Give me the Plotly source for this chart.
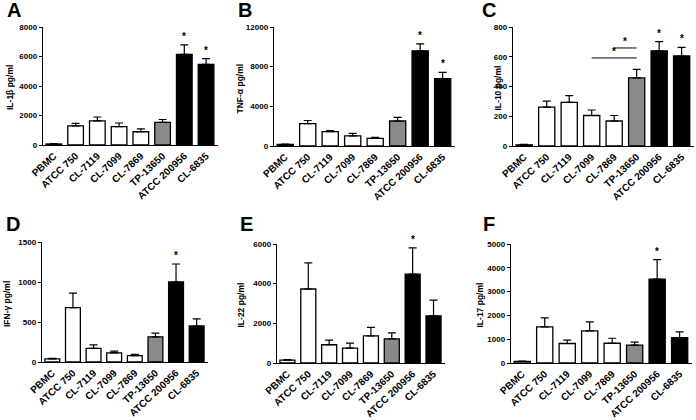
import plotly.graph_objects as go

W, H = 696, 420

categories = ["PBMC", "ATCC 750", "CL-7119", "CL-7099", "CL-7869", "TP-13650", "ATCC 200956", "CL-6835"]
bar_colors = ["white", "white", "white", "white", "white", "#8a8a8a", "black", "black"]

il1b_mean = [70, 1290, 1630, 1240, 900, 1530, 6150, 5470]
il1b_err = [20, 170, 270, 250, 200, 200, 640, 390]

tnfa_mean = [150, 2250, 1440, 1020, 760, 2520, 9600, 6780]
tnfa_err = [30, 320, 120, 260, 120, 360, 700, 650]

il10_mean = [8, 262, 293, 205, 168, 458, 640, 605]
il10_err = [3, 40, 45, 37, 37, 57, 62, 58]

ifng_mean = [40, 680, 170, 115, 80, 315, 1000, 450]
ifng_err = [5, 180, 45, 20, 15, 45, 225, 90]

il22_mean = [150, 3730, 920, 750, 1370, 1220, 4480, 2380]
il22_err = [20, 1320, 230, 250, 430, 300, 1320, 790]

il17_mean = [70, 1520, 820, 1350, 830, 750, 3520, 1060]
il17_err = [10, 380, 140, 380, 210, 130, 820, 250]

panels = [
    dict(letter="A", title="IL-1β pg/ml", mean=il1b_mean, err=il1b_err, top=8000, dtick=2000,
         star=["ATCC 200956", "CL-6835"]),
    dict(letter="B", title="TNF-α pg/ml", mean=tnfa_mean, err=tnfa_err, top=12000, dtick=4000,
         star=["ATCC 200956", "CL-6835"]),
    dict(letter="C", title="IL-10 pg/ml", mean=il10_mean, err=il10_err, top=800, dtick=200,
         star=["ATCC 200956", "CL-6835"]),
    dict(letter="D", title="IFN-γ pg/ml", mean=ifng_mean, err=ifng_err, top=1500, dtick=500,
         star=["ATCC 200956"]),
    dict(letter="E", title="IL-22 pg/ml", mean=il22_mean, err=il22_err, top=6000, dtick=2000,
         star=["ATCC 200956"]),
    dict(letter="F", title="IL-17 pg/ml", mean=il17_mean, err=il17_err, top=5000, dtick=1000,
         star=["ATCC 200956"]),
]

# pixel geometry: (axis left, axis right, axis top, axis bottom, letter x, letter top, title x)
geom = [
    (43, 218, 27, 145, 5, -3, 10),
    (274, 455, 27, 146, 236, -3, 239),
    (513, 694, 27, 146, 480, -3, 497),
    (42, 208, 242, 362, 4, 211, 7),
    (277, 445, 244, 363, 238, 211, 240),
    (511, 692, 244, 363, 481, 211, 479),
]

# bracket comparisons in panel C: (from, to, y)
c_brackets = [("CL-7099", "TP-13650", 592), ("CL-7869", "TP-13650", 659)]

FONT = "Liberation Sans, Arial, sans-serif"

fig = go.Figure()
layout = dict(
    width=W, height=H, margin=dict(l=0, r=0, t=0, b=0),
    paper_bgcolor="white", plot_bgcolor="white",
    showlegend=False, bargap=0.28,
    font=dict(family=FONT, color="black"),
)
annotations = []
shapes = []

for i, (p, g) in enumerate(zip(panels, geom)):
    n = i + 1
    xl, xr, yt, yb, lx, ly, tx = g
    xa = "x" if n == 1 else f"x{n}"
    ya = "y" if n == 1 else f"y{n}"
    fig.add_trace(go.Bar(
        x=categories, y=p["mean"], xaxis=xa, yaxis=ya,
        marker=dict(color=bar_colors, line=dict(color="black", width=1.3)),
        error_y=dict(type="data", array=p["err"], arrayminus=[0] * len(p["err"]),
                     symmetric=False, color="black", thickness=1.2, width=4),
        hoverinfo="skip",
    ))
    xkey = "xaxis" if n == 1 else f"xaxis{n}"
    ykey = "yaxis" if n == 1 else f"yaxis{n}"
    layout[xkey] = dict(
        domain=[xl / W, xr / W], anchor=ya, type="category",
        range=[-0.5, 7.55], showline=True, linecolor="black", linewidth=1.3,
        ticks="", showgrid=False, zeroline=False, tickangle=-43,
        tickfont=dict(family=FONT, size=10, weight="bold", color="black"),
        automargin=False, fixedrange=True,
    )
    layout[ykey] = dict(
        domain=[1 - yb / H, 1 - yt / H], anchor=xa,
        range=[0, p["top"]], dtick=p["dtick"], tick0=0, tickformat="d",
        showline=True, linecolor="black", linewidth=1.3,
        ticks="outside", ticklen=3, tickwidth=1, tickcolor="black",
        showgrid=False, zeroline=False,
        tickfont=dict(family=FONT, size=8, weight="bold", color="black"),
        automargin=False, fixedrange=True,
    )
    # panel letter
    annotations.append(dict(
        text=p["letter"], xref="paper", yref="paper", x=lx / W, y=1 - ly / H,
        xanchor="left", yanchor="top", showarrow=False,
        font=dict(family=FONT, size=20, weight="bold", color="black"),
    ))
    # y axis title
    annotations.append(dict(
        text=p["title"], xref="paper", yref="paper", x=tx / W, y=1 - ((yt + yb) / 2 + 2) / H,
        xanchor="center", yanchor="middle", textangle=-90, showarrow=False,
        font=dict(family=FONT, size=8.5, weight="bold", color="black"),
    ))
    # significance stars
    for cat in p["star"]:
        k = categories.index(cat)
        annotations.append(dict(
            text="*", xref=xa, yref=ya, x=cat, y=p["mean"][k] + p["err"][k],
            xanchor="center", yanchor="bottom", yshift=1, showarrow=False,
            font=dict(family=FONT, size=10, weight="bold", color="black"),
        ))
    if p["letter"] == "C":
        for a, b, yv in c_brackets:
            shapes.append(dict(type="line", xref=xa, yref=ya, x0=a, x1=b, y0=yv, y1=yv,
                               line=dict(color="black", width=1)))
            mid = (categories.index(a) + categories.index(b)) / 2
            annotations.append(dict(
                text="*", xref=xa, yref=ya, x=mid, y=yv,
                xanchor="center", yanchor="bottom", yshift=-1, showarrow=False,
                font=dict(family=FONT, size=10, weight="bold", color="black"),
            ))

layout["annotations"] = annotations
layout["shapes"] = shapes
fig.update_layout(**layout)
fig.write_html("out.html", config={"displayModeBar": False, "staticPlot": True},
               post_script="document.body.style.margin='0';document.body.style.overflow='hidden';")
